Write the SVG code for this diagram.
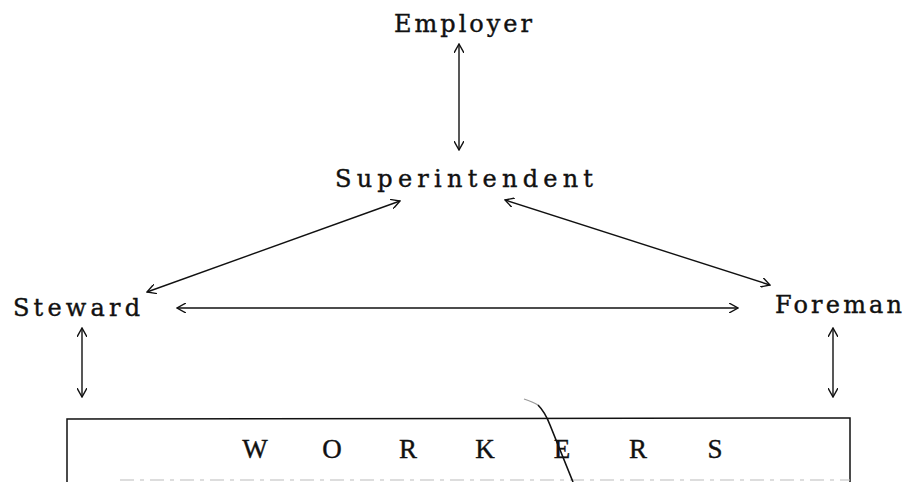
<svg xmlns="http://www.w3.org/2000/svg" width="906" height="482" viewBox="0 0 906 482">
<style>
.lbl{font-family:"DejaVu Serif","Liberation Serif",serif;font-size:24px;fill:#111;stroke:#111;stroke-width:0.4}
.wk{font-family:"Liberation Serif","DejaVu Serif",serif;font-size:27px;fill:#111;text-anchor:middle;stroke:#111;stroke-width:0.4}
.c{stroke:#111;stroke-width:1.4;fill:none}
.box{stroke:#111;stroke-width:1.5;fill:none}
</style>
<defs>
<marker id="ah" viewBox="0 0 10 10" refX="9" refY="5" markerWidth="10" markerHeight="10" markerUnits="userSpaceOnUse" orient="auto-start-reverse">
<path d="M0,0 L9,5 L0,10" fill="none" stroke="#111" stroke-width="1.4"/>
</marker>
</defs>
<rect width="906" height="482" fill="#fff"/>
<g id="employer"><text class="lbl" x="394" y="32" textLength="138" lengthAdjust="spacing">Employer</text></g>
<g id="superintendent"><text class="lbl" x="335" y="187" textLength="258" lengthAdjust="spacing">Superintendent</text></g>
<g id="steward"><text class="lbl" x="13" y="316" textLength="127" lengthAdjust="spacing">Steward</text></g>
<g id="foreman"><text class="lbl" x="775" y="313" textLength="127" lengthAdjust="spacing">Foreman</text></g>
<g id="workers">
<path class="box" d="M67,482 L67,419 L850,418 L850,482"/>
<text class="wk" x="255 332 408 485 562 638 715" y="458">WORKERS</text>
<line x1="120" y1="480" x2="850" y2="480" stroke="#bbb" stroke-width="1.2" stroke-dasharray="14 6 4 6"/>
</g>
<g id="connectors">
<line class="c" x1="459" y1="44" x2="459" y2="150" marker-start="url(#ah)" marker-end="url(#ah)"/>
<line class="c" x1="400" y1="201" x2="147" y2="292" marker-start="url(#ah)" marker-end="url(#ah)"/>
<line class="c" x1="505" y1="200" x2="770" y2="285" marker-start="url(#ah)" marker-end="url(#ah)"/>
<line class="c" x1="177" y1="308" x2="738" y2="308" marker-start="url(#ah)" marker-end="url(#ah)"/>
<line class="c" x1="82" y1="328" x2="82" y2="397" marker-start="url(#ah)" marker-end="url(#ah)"/>
<line class="c" x1="833" y1="328" x2="833" y2="397" marker-start="url(#ah)" marker-end="url(#ah)"/>
<path d="M524,399 Q533,402 538,405" fill="none" stroke="#999" stroke-width="1.2"/>
<path d="M538,405 Q545,412 550,425 L573,482" fill="none" stroke="#111" stroke-width="1.6"/>
</g>
</svg>
